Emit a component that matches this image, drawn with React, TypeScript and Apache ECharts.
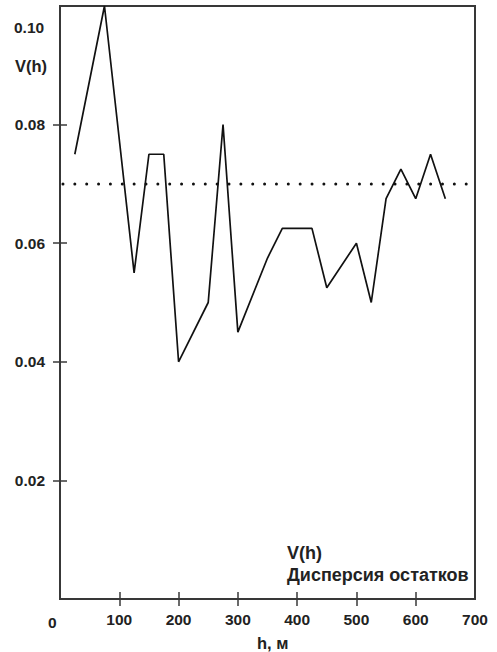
import React, { useEffect, useRef } from "react";
import * as echarts from "echarts";

const hValues = [25, 75, 125, 150, 175, 200, 250, 275, 300, 350, 375, 425, 450, 500, 525, 550, 575, 600, 625, 650];
const vValues = [0.075, 0.1, 0.055, 0.075, 0.075, 0.04, 0.05, 0.08, 0.045, 0.0575, 0.0625, 0.0625, 0.0525, 0.06, 0.05, 0.0675, 0.0725, 0.0675, 0.075, 0.0675];
const residualDispersion = 0.07;
const xTickValues = [100, 200, 300, 400, 500, 600];
const xLabelValues = [100, 200, 300, 400, 500, 600, 700];
const yTickValues = [0.02, 0.04, 0.06, 0.08];

const FONT = "'Liberation Sans', Arial, sans-serif";
const TEXT = "#222";
const AXIS = "#383838";

export default function App() {
  const ref = useRef<HTMLDivElement>(null);
  useEffect(() => {
    if (!ref.current) return;
    const chart = echarts.init(ref.current, undefined, { renderer: "svg" });
    const labelStyle = { color: TEXT, fontFamily: FONT, fontSize: 15.5, fontWeight: "bold" as const };
    chart.setOption({
      animation: false,
      backgroundColor: "#fff",
      grid: {
        left: 60, right: 22, top: 6, bottom: 53,
        show: true, borderColor: AXIS, borderWidth: 2,
        outerBoundsMode: "none",
        containLabel: false,
      },
      xAxis: [
        {
          type: "value", min: 0, max: 700, interval: 100, position: "bottom",
          axisLine: { show: true, lineStyle: { color: AXIS, width: 2 } },
          axisTick: { show: true, inside: false, length: 7, customValues: xTickValues, lineStyle: { color: AXIS, width: 1.5 } },
          axisLabel: { show: true, customValues: xLabelValues, margin: 12, ...labelStyle },
          splitLine: { show: false },
        },
        {
          type: "value", min: 0, max: 700, interval: 100, position: "bottom",
          axisLine: { show: false },
          axisTick: { show: true, inside: true, length: 7, customValues: xTickValues, lineStyle: { color: AXIS, width: 1.5 } },
          axisLabel: { show: false },
          splitLine: { show: false },
        },
      ],
      yAxis: [
        {
          type: "value", min: 0, max: 0.1, interval: 0.02, position: "left",
          axisLine: { show: true, lineStyle: { color: AXIS, width: 2 } },
          axisTick: { show: true, inside: false, length: 7, customValues: yTickValues, lineStyle: { color: AXIS, width: 1.5 } },
          axisLabel: { show: true, customValues: yTickValues, margin: 15, formatter: (v: number) => v.toFixed(2), ...labelStyle },
          splitLine: { show: false },
        },
        {
          type: "value", min: 0, max: 0.1, interval: 0.02, position: "left",
          axisLine: { show: false },
          axisTick: { show: true, inside: true, length: 7, customValues: yTickValues, lineStyle: { color: AXIS, width: 1.5 } },
          axisLabel: { show: false },
          splitLine: { show: false },
        },
      ],
      legend: {
        show: true,
        orient: "vertical",
        left: 277,
        top: 539,
        itemWidth: 0,
        itemHeight: 0,
        itemGap: 4,
        icon: "none",
        textStyle: { ...labelStyle, fontSize: 18, padding: 0 },
        data: ["V(h)", "Дисперсия остатков"],
      },
      series: [
        {
          name: "V(h)",
          type: "line",
          xAxisIndex: 0,
          yAxisIndex: 0,
          data: hValues.map((h, i) => [h, vValues[i]]),
          showSymbol: false,
          symbol: "none",
          lineStyle: { color: "#111", width: 1.7 },
          itemStyle: { color: "#111" },
        },
        {
          name: "Дисперсия остатков",
          type: "line",
          xAxisIndex: 0,
          yAxisIndex: 0,
          data: [[5, residualDispersion], [695, residualDispersion]],
          symbol: "none",
          lineStyle: { color: "#111", width: 3, type: [0.01, 11.85], cap: "round", dashOffset: 0 },
          itemStyle: { color: "#111" },
        },
      ],
      graphic: [
        { type: "text", left: 14, top: 19, style: { text: "0.10", font: `bold 15.5px ${FONT}`, fill: TEXT } },
        { type: "text", left: 15, top: 57, style: { text: "V(h)", font: `bold 16.5px ${FONT}`, fill: TEXT } },
        { type: "text", left: 48, top: 614, style: { text: "0", font: `bold 15.5px ${FONT}`, fill: TEXT } },
        { type: "text", left: 257, top: 634, style: { text: "h, м", font: `bold 16.5px ${FONT}`, fill: TEXT } },
      ],
    });
    return () => chart.dispose();
  }, []);
  return (
    <div
      ref={ref}
      style={{ position: "fixed", left: 0, top: 0, width: 497, height: 652, background: "#fff" }}
    />
  );
}
